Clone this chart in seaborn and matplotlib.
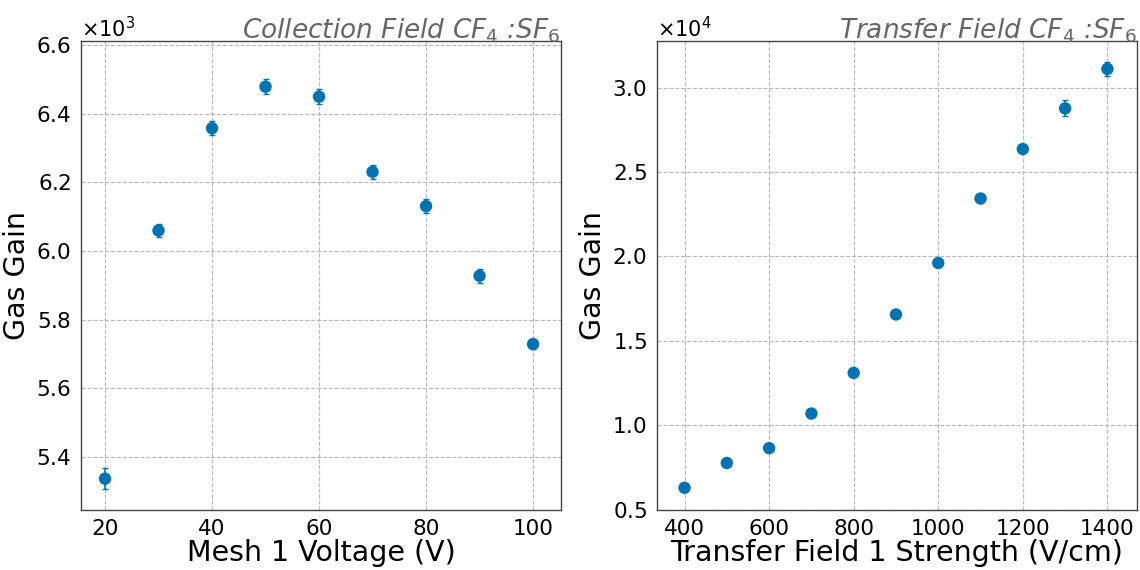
import matplotlib
matplotlib.use("Agg")
import matplotlib.pyplot as plt
import seaborn as sns
import pandas as pd

# Collection field scan
mesh_voltage = [20, 30, 40, 50, 60, 70, 80, 90, 100]
mesh_gain = [5337, 6060, 6358, 6479, 6450, 6231, 6131, 5928, 5729]
mesh_err = [30, 20, 20, 22, 22, 20, 20, 20, 14]

# Transfer field scan
transfer_field = [400, 500, 600, 700, 800, 900, 1000, 1100, 1200, 1300, 1400]
transfer_gain = [6290, 7760, 8640, 10690, 13100, 16560, 19610, 23430, 26360, 28770, 31110]
transfer_err = [120, 120, 120, 120, 120, 120, 150, 150, 200, 470, 400]

BLUE = "#0072B2"

sns.set_style("whitegrid", {
    "grid.linestyle": "--",
    "grid.color": "#b8b8b8",
    "axes.edgecolor": "#444444",
    "text.color": "black",
    "axes.labelcolor": "black",
    "xtick.color": "black",
    "ytick.color": "black",
})
plt.rcParams["font.family"] = ["DejaVu Sans"]

fig = plt.figure(figsize=(11.4, 5.7), dpi=100)
ax1 = fig.add_axes([0.071, 0.106, 0.421, 0.822])
ax2 = fig.add_axes([0.576, 0.106, 0.421, 0.822])

df1 = pd.DataFrame({"x": mesh_voltage, "y": mesh_gain, "e": mesh_err})
df2 = pd.DataFrame({"x": transfer_field, "y": transfer_gain, "e": transfer_err})

panels = [
    (ax1, df1, "Mesh 1 Voltage (V)", "Collection Field CF$_4$ :SF$_6$"),
    (ax2, df2, "Transfer Field 1 Strength (V/cm)", "Transfer Field CF$_4$ :SF$_6$"),
]

for ax, df, xlabel, title in panels:
    ax.errorbar(df["x"], df["y"], yerr=df["e"], fmt="none", ecolor=BLUE,
                elinewidth=1.2, capsize=2.5, zorder=2)
    sns.scatterplot(x="x", y="y", data=df, ax=ax, color=BLUE, s=80,
                    edgecolor="none", zorder=3)
    ax.set_xlabel(xlabel, fontsize=20.5, labelpad=0)
    ax.set_ylabel("Gas Gain", fontsize=20.5)
    ax.set_title(title, loc="right", fontsize=19, fontstyle="italic",
                 color="#666666", pad=2)
    ax.tick_params(labelsize=15.5)
    ax.ticklabel_format(axis="y", style="sci", scilimits=(0, 0), useMathText=True)
    ax.yaxis.get_offset_text().set_fontsize(15)
    for s in ax.spines.values():
        s.set_linewidth(1.0)

ax1.set_xlim(15.5, 105.2)
ax1.set_ylim(5247, 6612)
ax1.set_xticks([20, 40, 60, 80, 100])
ax1.set_yticks([5400, 5600, 5800, 6000, 6200, 6400, 6600])

ax2.set_xlim(334, 1469)
ax2.set_ylim(5000, 32760)
ax2.set_xticks([400, 600, 800, 1000, 1200, 1400])
ax2.set_yticks([5000, 10000, 15000, 20000, 25000, 30000])

fig.savefig("out.png", dpi=100)
